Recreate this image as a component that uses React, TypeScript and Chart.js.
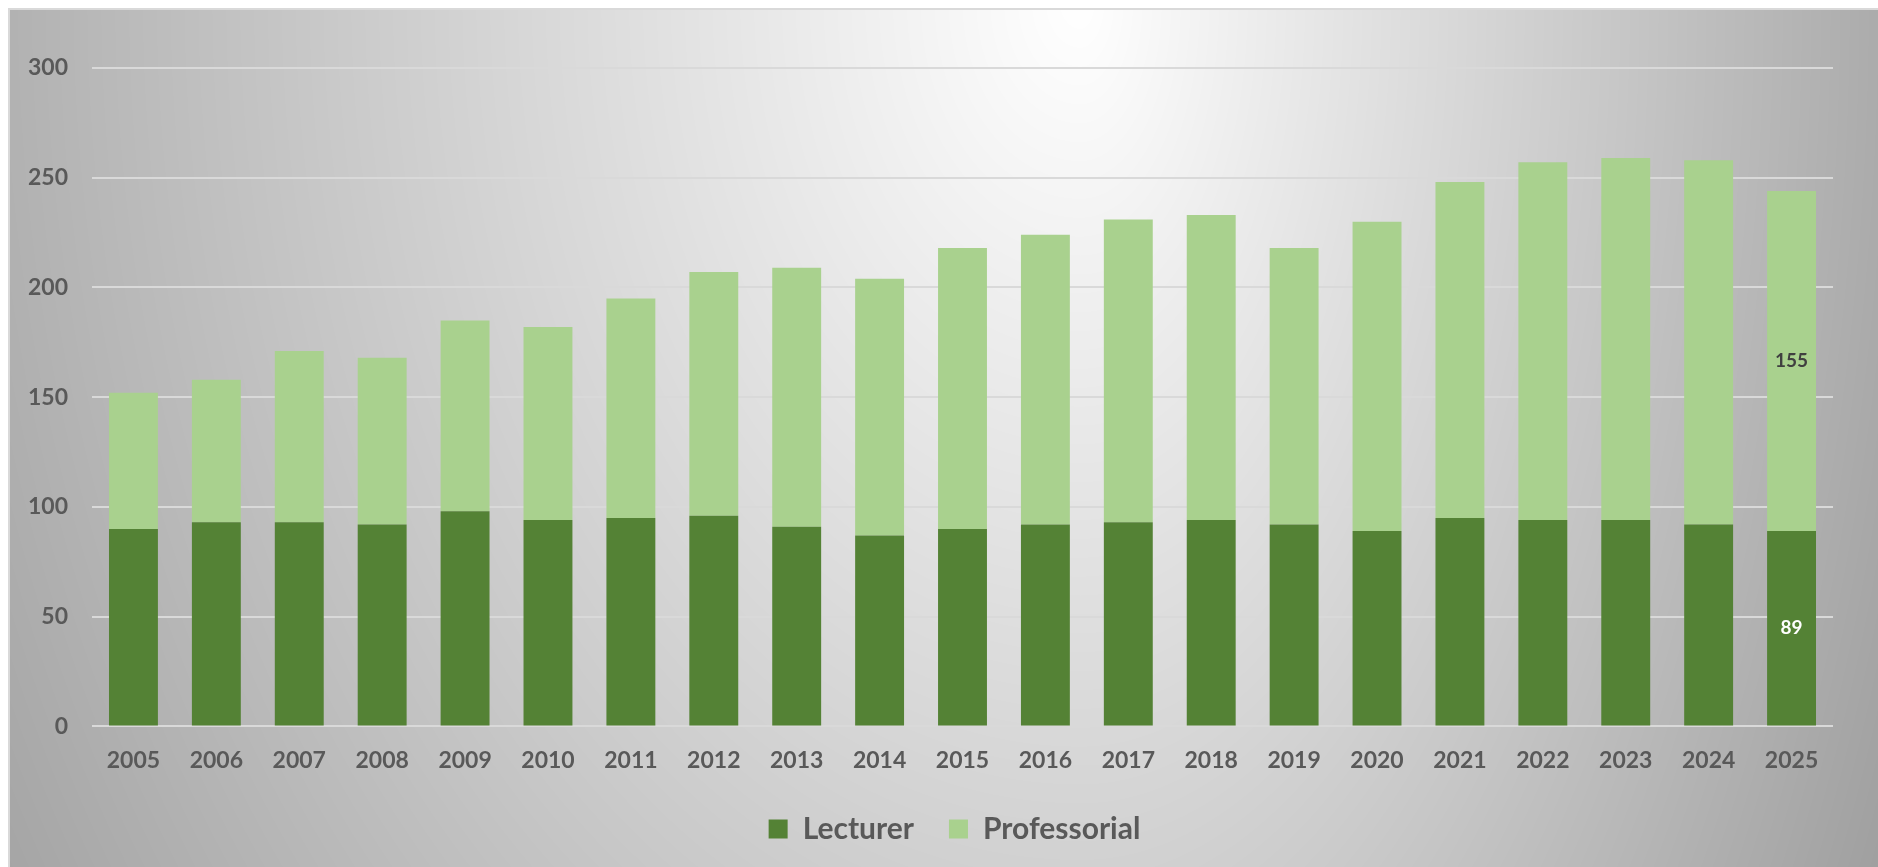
import React, { useEffect, useRef } from "react";
import { Chart, registerables } from "chart.js";

Chart.register(...registerables);

const years = [
  "2005", "2006", "2007", "2008", "2009", "2010", "2011", "2012", "2013", "2014",
  "2015", "2016", "2017", "2018", "2019", "2020", "2021", "2022", "2023", "2024", "2025",
];
const lecturer = [90, 93, 93, 92, 98, 94, 95, 96, 91, 87, 90, 92, 93, 94, 92, 89, 95, 94, 94, 92, 89];
const professorial = [62, 65, 78, 76, 87, 88, 100, 111, 118, 117, 128, 132, 138, 139, 126, 141, 153, 163, 165, 166, 155];
const seriesNames = ["Lecturer", "Professorial"];
const seriesColors = ["#548235", "#A9D18E"];
const valueLabelColors = ["#FFFFFF", "#404040"];
const yMin = 0;
const yMax = 300;
const yStep = 50;

const W = 1878;
const H = 867;
const FONT = "Lato, 'Open Sans', sans-serif";
const TEXT = "#595959";

function makeBackground(ctx: CanvasRenderingContext2D): ImageData {
  const img = ctx.createImageData(W, H);
  const d = img.data;
  const cx = 1080, cy = 0, rxL = 1250, rxR = 860, ry = 1700;
  for (let y = 0; y < H; y++) {
    for (let x = 0; x < W; x++) {
      const i = (y * W + x) * 4;
      let v: number;
      if (x < 8 || y < 8) {
        v = 255;
      } else if (x < 10 || y < 10) {
        v = 217;
      } else {
        const dx = (x - cx) / (x < cx ? rxL : rxR);
        const dy = (y - cy) / ry;
        const t = Math.sqrt(dx * dx + dy * dy);
        v = Math.max(150, 255 - 90 * t);
      }
      d[i] = v;
      d[i + 1] = v;
      d[i + 2] = v;
      d[i + 3] = 255;
    }
  }
  return img;
}

export default function App() {
  const ref = useRef<HTMLCanvasElement | null>(null);

  useEffect(() => {
    let chart: Chart | null = null;
    let cancelled = false;
    let bg: ImageData | null = null;

    const bgPlugin = {
      id: "bgPlugin",
      beforeDraw(c: any) {
        const ctx = c.ctx as CanvasRenderingContext2D;
        if (!bg) bg = makeBackground(ctx);
        ctx.putImageData(bg, 0, 0);
      },
    };

    const legendShift = {
      id: "legendShift",
      afterLayout(c: any) {
        const lg = c.legend;
        if (lg) {
          lg.left += 24;
          lg.right += 24;
        }
      },
    };

    const valueLabels = {
      id: "valueLabels",
      afterDatasetsDraw(c: any) {
        const ctx = c.ctx as CanvasRenderingContext2D;
        ctx.save();
        ctx.font = `bold 19px ${FONT}`;
        ctx.textAlign = "center";
        ctx.textBaseline = "middle";
        c.data.datasets.forEach((ds: any, i: number) => {
          const meta = c.getDatasetMeta(i);
          const n = ds.data.length - 1;
          const el = meta.data[n] as any;
          if (!el) return;
          ctx.fillStyle = valueLabelColors[i];
          ctx.fillText(String(ds.data[n]), el.x, (el.y + el.base) / 2);
        });
        ctx.restore();
      },
    };

    const start = () => {
      if (cancelled || !ref.current) return;
      chart = new Chart(ref.current, {
        type: "bar",
        data: {
          labels: years,
          datasets: [
            { label: seriesNames[0], data: lecturer, backgroundColor: seriesColors[0], borderWidth: 0, barPercentage: 0.59, categoryPercentage: 1 },
            { label: seriesNames[1], data: professorial, backgroundColor: seriesColors[1], borderWidth: 0, barPercentage: 0.59, categoryPercentage: 1 },
          ],
        },
        options: {
          animation: false,
          responsive: true,
          maintainAspectRatio: false,
          events: [],
          layout: { padding: { left: 28, right: 45, top: 68, bottom: 13 } },
          plugins: {
            legend: {
              position: "bottom",
              labels: {
                boxWidth: 19,
                boxHeight: 19,
                padding: 35,
                color: TEXT,
                font: { family: FONT, size: 30, weight: "bold" },
              },
            },
            tooltip: { enabled: false },
          },
          scales: {
            x: {
              stacked: true,
              grid: { display: false, drawTicks: false },
              border: { display: false },
              ticks: { color: TEXT, padding: 20, font: { family: FONT, size: 23, weight: "bold" } },
              afterFit: (s: any) => {
                s.height -= 15;
              },
            },
            y: {
              stacked: true,
              min: yMin,
              max: yMax,
              ticks: { stepSize: yStep, padding: 24, color: TEXT, font: { family: FONT, size: 23, weight: "bold" } },
              grid: { color: "#D9D9D9", lineWidth: 2, drawTicks: false },
              border: { display: false },
              afterFit: (s: any) => {
                s.width = 64;
              },
            },
          },
        } as any,
        plugins: [bgPlugin, legendShift, valueLabels],
      });
    };

    const fontsReady = (document as any).fonts
      ? Promise.all([
          (document as any).fonts.load(`bold 23px Lato`),
          (document as any).fonts.load(`bold 30px Lato`),
        ]).catch(() => null)
      : Promise.resolve(null);
    fontsReady.then(start);

    return () => {
      cancelled = true;
      if (chart) chart.destroy();
    };
  }, []);

  return (
    <div style={{ position: "fixed", left: 0, top: 0, width: W, height: H }}>
      <canvas ref={ref} />
    </div>
  );
}
